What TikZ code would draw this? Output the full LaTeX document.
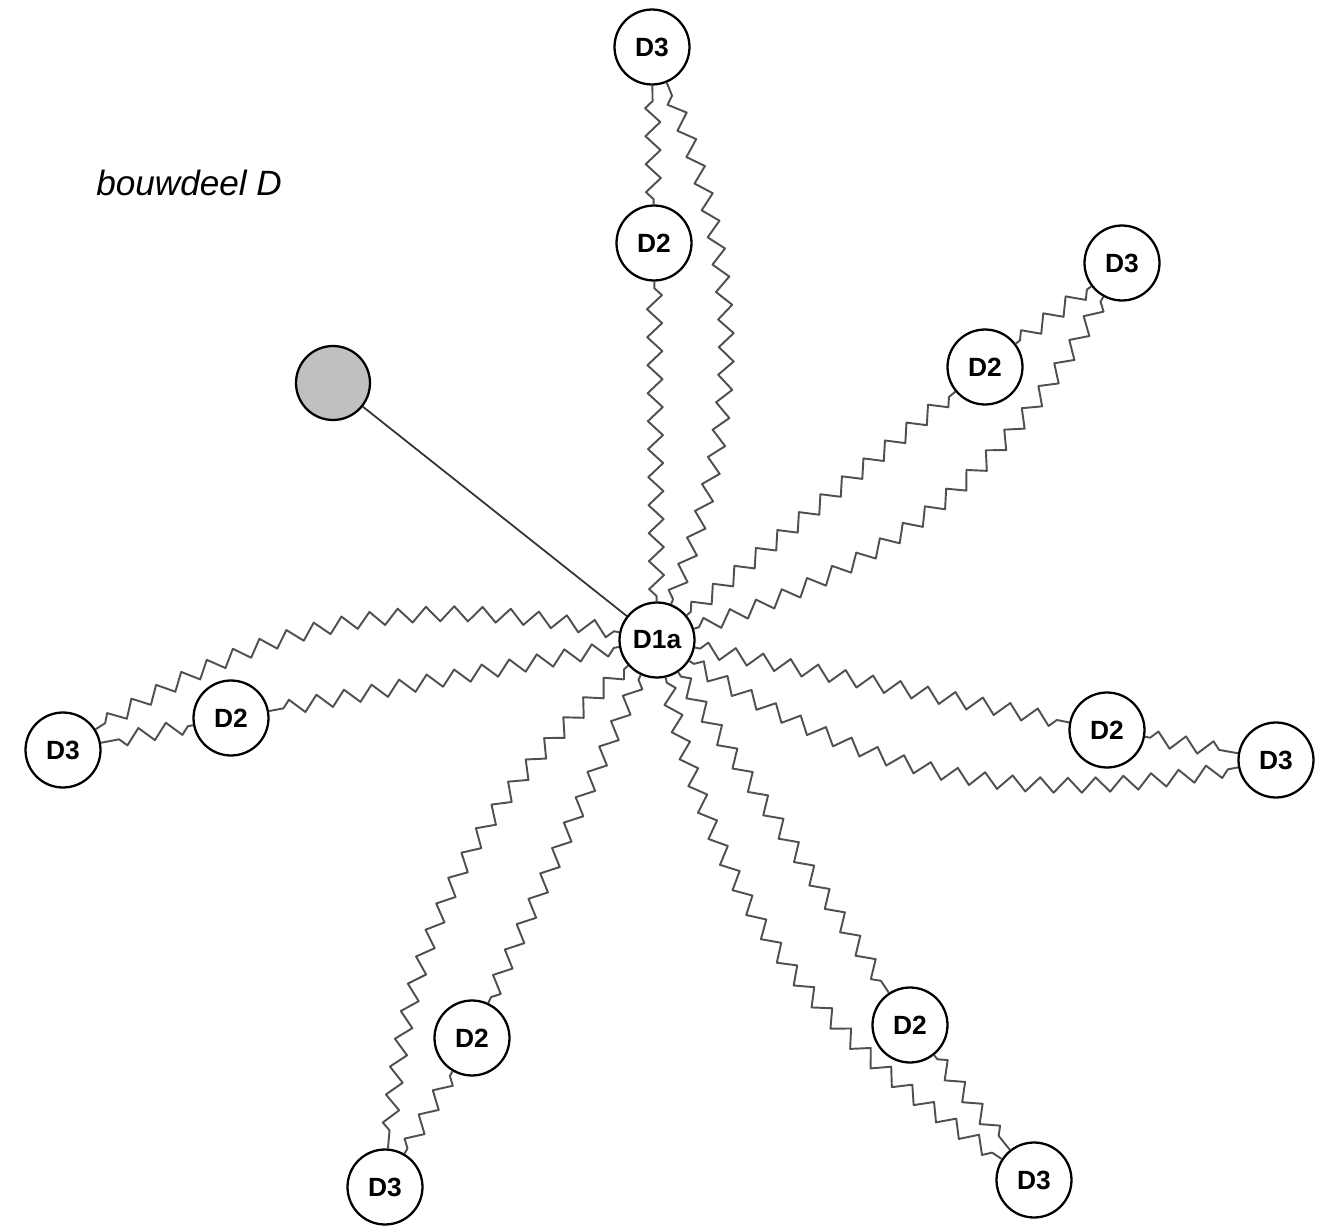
\documentclass[tikz,border=0pt]{standalone}
\usepackage{fontspec}
\setsansfont{Liberation Sans}
\usepackage{tikz}
\usetikzlibrary{decorations.pathmorphing}
\definecolor{mygray}{RGB}{80,80,80}
\definecolor{myfill}{RGB}{192,192,192}

\begin{document}
\begin{tikzpicture}[x=0.02cm,y=0.02cm]
	\useasboundingbox (0,0) rectangle (1320,-1230);
	\node[anchor=base west, inner sep=0, font=\sffamily\itshape\fontsize{20}{24}\selectfont] (title) at (96,-195) {bouwdeel D};

	\begin{scope}[every node/.style={fill=white,circle,draw,line width=1.3pt, minimum size=1.5cm, inner sep=0, font=\sffamily\bfseries\fontsize{15}{18}\selectfont}]
	    \node (C) at (657,-640) {D1a};
	    \node (t2) at (654,-243) {D2};
	    \node (t3) at (652,-47) {D3};
	    \node (ur2) at (985,-367) {D2};
	    \node (ur3) at (1122,-263) {D3};
	    \node (r2) at (1107,-730) {D2};
	    \node (r3) at (1276,-760) {D3};
	    \node (lr2) at (910,-1025) {D2};
	    \node (lr3) at (1034,-1180) {D3};
	    \node (ll2) at (472,-1038) {D2};
	    \node (ll3) at (385,-1187) {D3};
	    \node (l2) at (231,-718) {D2};
	    \node (l3) at (63,-750) {D3};
	    \node (G) [fill=myfill, minimum size=1.48cm] at (333,-383) {};
	\end{scope}

	\draw[line width=1pt, black!80] (G) -- (C);

	\begin{scope}[every edge/.style={draw=mygray, line width=1.1pt, line join=round, decorate,
	              decoration={zigzag, segment length=0.56cm, amplitude=0.15cm, pre length=3pt, post length=3pt}}]
	\foreach \arm in {t,ur,r,lr,ll,l} {
	    \path (C) edge (\arm2);
	    \path (\arm2) edge (\arm3);
	    \path (C) edge[bend right=22] (\arm3);
	}
	\end{scope}
	\end{tikzpicture}
\end{document}
